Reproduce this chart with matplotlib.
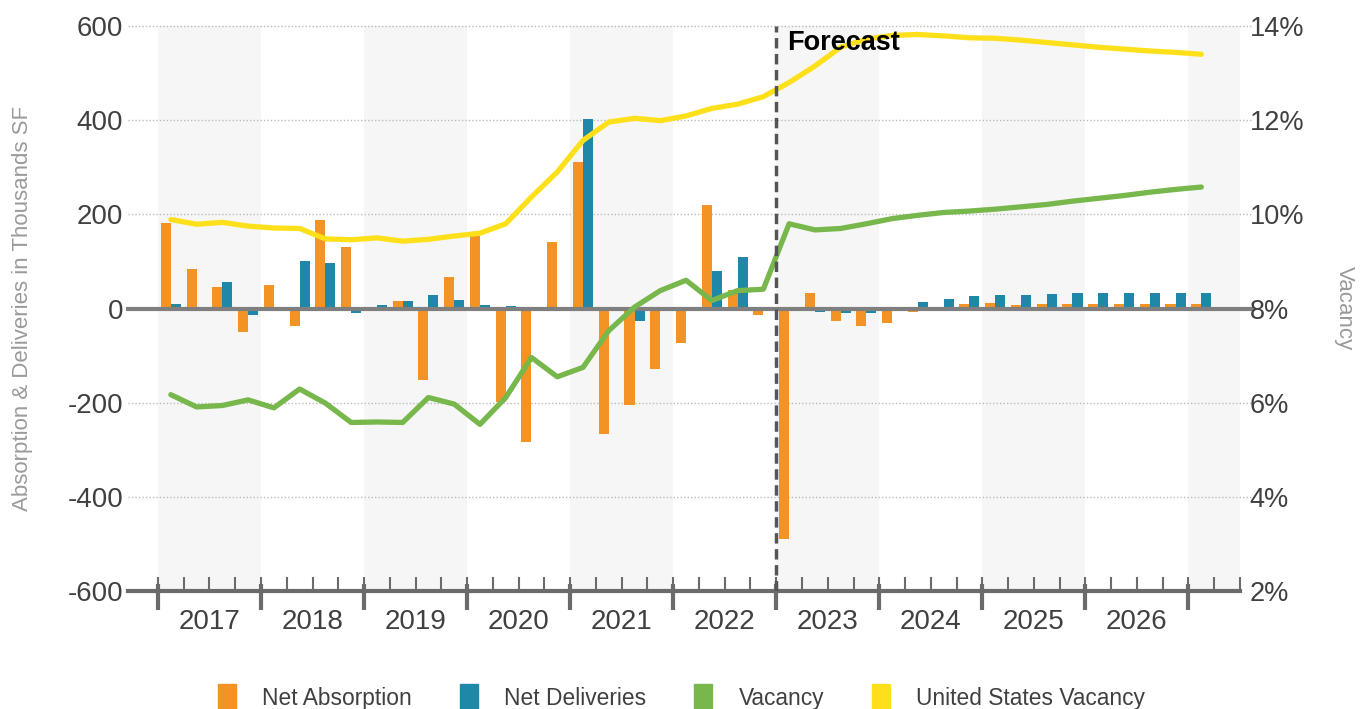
import numpy as np
import matplotlib.pyplot as plt
from matplotlib.patches import Patch
from matplotlib.ticker import FuncFormatter

# quarterly series, 2017 Q1 .. 2027 Q1
years = ["2017", "2018", "2019", "2020", "2021", "2022", "2023", "2024", "2025", "2026"]
net_absorption = [182, 83, 45, -49, 51, -38, 189, 130, 4, 17, -151, 67, 153, -199,
                  -284, 141, 311, -267, -205, -128, -74, 220, 40, -13, -489, 33,
                  -27, -38, -30, -8, 4, 9, 11, 8, 9, 9, 9, 9, 9, 9, 9]
net_deliveries = [9, 1, 56, -13, 0, 101, 96, -10, 8, 16, 29, 18, 8, 6, 4, 0, 402,
                  0, -27, 0, 0, 79, 109, 0, 0, -8, -10, -9, 3, 13, 21, 26, 28, 29,
                  31, 32, 32, 33, 33, 33, 33]
vacancy = [6.17, 5.91, 5.94, 6.06, 5.89, 6.29, 5.99, 5.58, 5.59, 5.58, 6.11, 5.97,
           5.54, 6.11, 6.96, 6.55, 6.75, 7.53, 8.03, 8.38, 8.60, 8.17, 8.38, 8.41,
           9.80, 9.67, 9.70, 9.80, 9.91, 9.98, 10.04, 10.07, 10.11, 10.16, 10.21,
           10.28, 10.34, 10.40, 10.47, 10.53, 10.58]
us_vacancy = [9.89, 9.79, 9.83, 9.75, 9.71, 9.70, 9.48, 9.46, 9.50, 9.43, 9.47, 9.54,
              9.60, 9.80, 10.37, 10.90, 11.57, 11.96, 12.04, 11.99, 12.09, 12.25,
              12.34, 12.50, 12.80, 13.15, 13.55, 13.72, 13.80, 13.82, 13.79, 13.75,
              13.74, 13.70, 13.65, 13.60, 13.55, 13.51, 13.47, 13.44, 13.40]
forecast_q = 24  # 2023 Q1

C_ABS = "#F39325"
C_DEL = "#1F87A8"
C_VAC = "#77B74C"
C_US = "#FDE01A"
TXT = "#404040"
AXC = "#6B6B6B"

plt.rcParams['font.family'] = ['Liberation Sans', 'DejaVu Sans']
plt.rcParams['axes.unicode_minus'] = False

fig = plt.figure(figsize=(13.71, 7.09), dpi=100)
ax = fig.add_axes([0.1152, 0.1664, 0.7892, 0.7969])
ax2 = ax.twinx()

n = len(net_absorption)
x = np.arange(n) + 0.5
xmax = 42
ax.set_xlim(0, xmax)
ax.set_ylim(-600, 600)
ax2.set_ylim(2, 14)

# alternating year bands
for k in range(0, 11, 2):
    ax.axvspan(4 * k, min(4 * k + 4, xmax), color="#F6F6F6", lw=0, zorder=0)

# grid lines, running a little past the plot on both sides
xl, xr = -1.15, xmax + 0.5
for v in [-400, -200, 200, 400, 600]:
    ax.plot([xl, xr], [v, v], ls=(0, (1, 1.5)), color="#BBBBBB", lw=1,
            clip_on=False, zorder=1)
ax.plot([xl, xr], [0, 0], color="#7F7F7F", lw=3, clip_on=False, zorder=3)
ax.plot([xl, xmax], [-600, -600], color=AXC, lw=3, clip_on=False, zorder=3)

bw = 0.39
ax.bar(x - bw, net_absorption, width=bw, align="edge", color=C_ABS, zorder=2)
ax.bar(x, net_deliveries, width=bw, align="edge", color=C_DEL, zorder=2)

ax2.plot(x, vacancy, color=C_VAC, lw=3.8, solid_capstyle="round", zorder=3)
ax2.plot(x, us_vacancy, color=C_US, lw=3.8, solid_capstyle="round", zorder=4)

# forecast marker
ax2.axvline(forecast_q, ymin=0, ymax=1, color="#555555", lw=2.5,
            ls=(0, (3, 1.6)), zorder=5)
ax2.text(forecast_q + 0.42, 13.49, "Forecast", fontsize=19.5, fontweight="bold",
         color="black", va="baseline", zorder=6)

for s in ax.spines.values():
    s.set_visible(False)
for s in ax2.spines.values():
    s.set_visible(False)

# x axis: quarter ticks above the line, year boundary ticks mostly below it
ax.set_xticks(np.arange(0, xmax + 1))
ax.set_xticklabels([])
ax.tick_params(axis="x", which="major", direction="in", length=10, width=1.5,
               color=AXC)
ax.vlines(np.arange(0, 41, 4), -641, -585, color=AXC, lw=3, clip_on=False,
          zorder=3)
for i, yr in enumerate(years):
    ax.text(4 * i + 2, -666, yr, ha="center", va="center", fontsize=20,
            color=TXT, clip_on=False)

ax.set_yticks(np.arange(-600, 601, 200))
ax.tick_params(axis="y", length=0, pad=25, labelsize=20, labelcolor=TXT)
ax2.set_yticks(np.arange(2, 15, 2))
ax2.yaxis.set_major_formatter(FuncFormatter(lambda v, p: f"{v:.0f}%"))
ax2.tick_params(axis="y", length=0, pad=7, labelsize=19.5, labelcolor=TXT)

ax.set_ylabel("Absorption & Deliveries in Thousands SF", fontsize=16,
              color="#9A9A9A")
ax.yaxis.set_label_coords(-0.1155, 0.5)
ax2.set_ylabel("Vacancy", fontsize=16, color="#9A9A9A", rotation=270)
ax2.yaxis.set_label_coords(1.106, 0.5)

handles = [Patch(color=C_ABS), Patch(color=C_DEL), Patch(color=C_VAC), Patch(color=C_US)]
labels = ["Net Absorption", "Net Deliveries", "Vacancy", "United States Vacancy"]
fig.legend(handles, labels, loc="center", bbox_to_anchor=(0.497, 0.017), ncol=4,
           frameon=False, fontsize=16.4, handlelength=0.8, handleheight=1.4,
           handletextpad=1.15, columnspacing=2.1, labelcolor=TXT)

fig.savefig("out.png", dpi=100)
